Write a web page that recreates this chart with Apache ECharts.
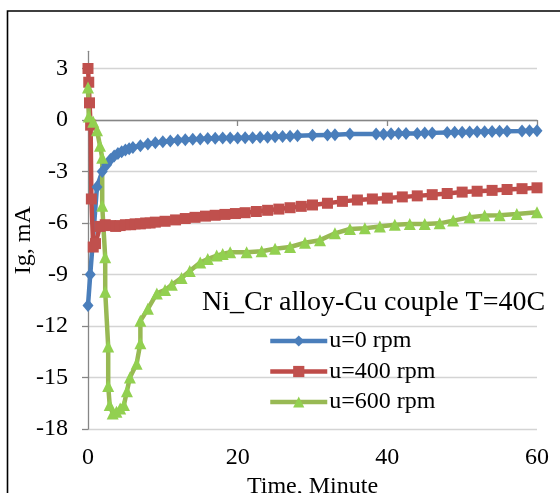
<!DOCTYPE html>
<html><head><meta charset="utf-8">
<script src="https://cdn.jsdelivr.net/npm/echarts@6/dist/echarts.min.js"></script>
<style>html,body{margin:0;padding:0;background:#fff}#c{width:560px;height:493px}</style>
</head><body><div id="c"></div>
<script>
// ---- data ----
const seriesNames = ['u=0 rpm', 'u=400 rpm', 'u=600 rpm'];
const xTicks = [0, 20, 40, 60];
const yTicks = [-18, -15, -12, -9, -6, -3, 0, 3];

const time0 = [0, 0.3, 1.2, 1.9, 2.5, 3, 3.5, 4, 4.5, 5, 5.5, 6, 7, 8, 9, 10, 11, 12, 13, 14, 15, 16, 17, 18, 19, 20, 21, 22, 23, 24, 25, 26, 27, 28, 30, 32, 33, 35, 38.5, 39.5, 40.5, 41.5, 42.5, 44, 45, 46, 48, 49, 50, 51, 52, 53, 54, 55, 56, 58, 59, 60];
const ig0 = [-10.8, -9.0, -3.9, -3.0, -2.6, -2.3, -2.1, -1.95, -1.85, -1.75, -1.68, -1.6, -1.5, -1.4, -1.33, -1.27, -1.22, -1.18, -1.15, -1.12, -1.1, -1.08, -1.06, -1.05, -1.05, -1.05, -1.04, -1.03, -1.01, -1.0, -0.98, -0.96, -0.94, -0.92, -0.89, -0.87, -0.86, -0.82, -0.81, -0.83, -0.8, -0.79, -0.79, -0.78, -0.76, -0.75, -0.73, -0.72, -0.71, -0.7, -0.69, -0.68, -0.67, -0.66, -0.65, -0.64, -0.63, -0.62];

const time400 = [0, 0.1, 0.2, 0.35, 0.45, 0.7, 1.0, 1.6, 2.3, 3, 3.7, 4.3, 5, 5.7, 6.3, 7, 7.7, 8.3, 9, 10.3, 11.7, 13, 14.3, 15.7, 17, 18.3, 19.7, 21, 22.5, 24, 25.5, 27, 28.5, 30, 32, 34, 36, 38, 40, 42, 44, 46, 48, 50, 52, 54, 56, 58, 60];
const ig400 = [3.0, 2.2, 1.0, -0.3, -4.6, -7.4, -7.2, -6.2, -6.1, -6.15, -6.2, -6.15, -6.1, -6.1, -6.05, -6.05, -6.0, -6.0, -5.95, -5.9, -5.82, -5.74, -5.67, -5.6, -5.55, -5.5, -5.45, -5.4, -5.33, -5.26, -5.19, -5.11, -5.03, -4.95, -4.85, -4.74, -4.66, -4.6, -4.55, -4.48, -4.42, -4.35, -4.28, -4.2, -4.15, -4.1, -4.05, -4.0, -3.95];

const time600 = [0, 0.1, 0.7, 1.2, 1.6, 1.9, 1.9, 2.3, 2.3, 2.7, 2.7, 2.9, 3.3, 3.8, 4.3, 4.8, 5.2, 5.6, 6.5, 7, 7, 8, 9.2, 10.3, 11.2, 12.5, 13.6, 15, 16, 17.2, 18, 19, 21.2, 23.2, 25, 27, 29, 31, 33, 35, 37, 39, 41, 43, 45, 47, 48.8, 51, 53, 55, 57.3, 60];
const ig600 = [1.9, 0.2, -0.1, -0.6, -1.5, -2.2, -5.0, -8.0, -10.0, -13.2, -15.5, -16.6, -17.1, -17.0, -16.8, -16.6, -15.8, -15.0, -14.2, -13.0, -11.7, -11.0, -10.1, -9.9, -9.6, -9.2, -8.8, -8.3, -8.1, -7.9, -7.8, -7.7, -7.7, -7.65, -7.5, -7.4, -7.15, -7.0, -6.6, -6.35, -6.3, -6.2, -6.1, -6.06, -6.06, -6.02, -5.86, -5.67, -5.57, -5.55, -5.48, -5.38];

function pairs(t, v) { return t.map((x, i) => [x, v[i]]); }

const FONT = 'Liberation Serif';
const chart = echarts.init(document.getElementById('c'), null, {renderer: 'canvas'});

const gridBottom = 64, gridLeft = 88, gridRight = 23;
const top3 = 68.5;
const unitPx = (493 - gridBottom - top3) / 21;
const top4 = top3 - unitPx;

chart.setOption({
  animation: false,
  backgroundColor: '#fff',
  graphic: [{
    type: 'rect', shape: {x: 7.5, y: 11, width: 700, height: 700},
    style: {fill: null, stroke: '#000', lineWidth: 1.6}, silent: true, z: 100
  }],
  title: {
    text: 'Ni_Cr alloy-Cu couple T=40C', left: 202, top: 289, padding: 0,
    textStyle: {fontFamily: FONT, fontSize: 28, fontWeight: 'normal', color: '#000'}
  },
  legend: {
    orient: 'vertical', left: 268, top: 329, padding: 0,
    itemWidth: 57, itemHeight: 14, itemGap: 6.5,
    data: seriesNames,
    lineStyle: {width: 4.5},
    textStyle: {fontFamily: FONT, fontSize: 24, color: '#000', padding: [0, 0, 0, -3], lineHeight: 24}
  },
  grid: [
    {left: gridLeft, right: gridRight, top: top4, bottom: gridBottom, outerBoundsMode: 'none', containLabel: false},
    {left: gridLeft, right: gridRight, top: top3, bottom: gridBottom, outerBoundsMode: 'none', containLabel: false}
  ],
  xAxis: [
    {
      type: 'value', gridIndex: 0, min: xTicks[0], max: xTicks[xTicks.length - 1], interval: 20, z: 3,
      axisLine: {show: true, lineStyle: {color: '#868686', width: 1.3}},
      axisTick: {show: true, inside: false, length: 6, lineStyle: {color: '#868686', width: 1.3}},
      axisLabel: {fontFamily: FONT, fontSize: 24, color: '#000', margin: 17},
      splitLine: {show: false},
      name: 'Time, Minute', nameLocation: 'middle', nameGap: 43,
      nameTextStyle: {fontFamily: FONT, fontSize: 24, color: '#000'}
    },
    {type: 'value', gridIndex: 1, min: 0, max: 60, show: false}
  ],
  yAxis: [
    {
      type: 'value', gridIndex: 0, min: -18, max: 4, z: 3,
      axisLine: {show: true, lineStyle: {color: '#868686', width: 1.3}},
      axisTick: {show: false}, axisLabel: {show: false}, splitLine: {show: false},
      name: 'Ig, mA', nameLocation: 'middle', nameGap: 52, nameRotate: 90,
      nameTextStyle: {fontFamily: FONT, fontSize: 24, color: '#000'}
    },
    {
      type: 'value', gridIndex: 1, min: yTicks[0], max: yTicks[yTicks.length - 1], interval: 3, z: 1,
      axisLine: {show: false},
      axisTick: {show: true, inside: false, length: 6, lineStyle: {color: '#868686', width: 1.3}},
      axisLabel: {fontFamily: FONT, fontSize: 24, color: '#000', margin: 20},
      splitLine: {show: true, lineStyle: {color: '#d4d4d4', width: 1.3}}
    }
  ],
  series: [
    {
      name: seriesNames[0], type: 'line', xAxisIndex: 0, yAxisIndex: 0,
      data: pairs(time0, ig0), symbol: 'diamond', symbolSize: [11, 13],
      lineStyle: {color: '#4a7ebb', width: 4.5}, itemStyle: {color: '#4a7ebb'}, color: '#4a7ebb'
    },
    {
      name: seriesNames[1], type: 'line', xAxisIndex: 0, yAxisIndex: 0,
      data: pairs(time400, ig400), symbol: 'rect', symbolSize: 11,
      lineStyle: {color: '#be4b48', width: 4.5}, itemStyle: {color: '#c0504d'}, color: '#c0504d'
    },
    {
      name: seriesNames[2], type: 'line', xAxisIndex: 0, yAxisIndex: 0,
      data: pairs(time600, ig600), symbol: 'triangle', symbolSize: [12, 12],
      lineStyle: {color: '#98b954', width: 4.5}, itemStyle: {color: '#92d050'}, color: '#92d050'
    }
  ]
});
</script></body></html>
